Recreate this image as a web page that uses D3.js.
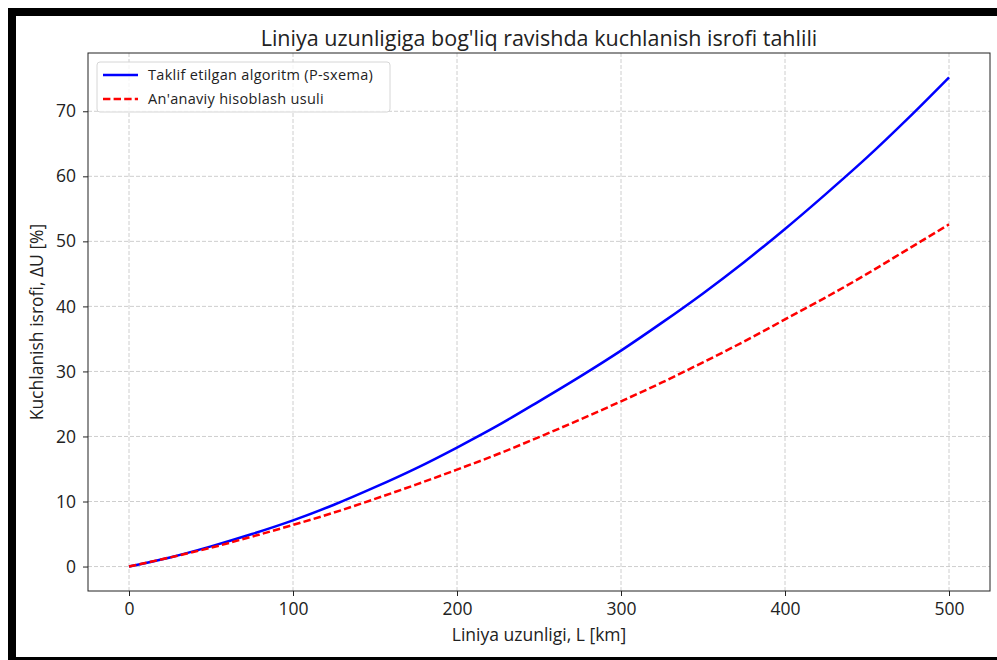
<!DOCTYPE html>
<html>
<head>
<meta charset="utf-8">
<script src="https://cdn.jsdelivr.net/npm/d3@7"></script>
<style>
  body { margin: 0; background: #fff; }
  svg { display: block; font-family: "Open Sans", sans-serif; }
</style>
</head>
<body>
<script>
// Data
var lengthKm = [0, 25, 50, 75, 100, 125, 150, 175, 200, 225, 250, 275, 300, 325, 350, 375, 400, 425, 450, 475, 500];
var proposedLoss = [0, 1.4, 3.1, 5.0, 7.1, 9.5, 12.2, 15.1, 18.3, 21.7, 25.4, 29.2, 33.2, 37.5, 42.0, 46.8, 51.9, 57.3, 62.9, 68.9, 75.2];
var traditionalLoss = [0, 1.4, 2.9, 4.6, 6.4, 8.3, 10.4, 12.6, 14.9, 17.3, 19.9, 22.6, 25.4, 28.3, 31.4, 34.6, 38.0, 41.4, 45.0, 48.8, 52.6];
var xTicks = [0, 100, 200, 300, 400, 500];
var yTicks = [0, 10, 20, 30, 40, 50, 60, 70];
var seriesNames = ["Taklif etilgan algoritm (P-sxema)", "An'anaviy hisoblash usuli"];

var W = 997, H = 660;
var margin = { top: 53, right: 7, bottom: 69, left: 88 },
    width = W - margin.left - margin.right,
    height = H - margin.top - margin.bottom;

var svg = d3.select("body").append("svg")
    .attr("width", W)
    .attr("height", H);

// black frame around the figure (top, left, bottom)
svg.append("rect").attr("x", 8).attr("y", 8).attr("width", W - 8).attr("height", 8).attr("fill", "#000");
svg.append("rect").attr("x", 8).attr("y", 8).attr("width", 8).attr("height", H - 8).attr("fill", "#000");
svg.append("rect").attr("x", 8).attr("y", 657).attr("width", W - 8).attr("height", 3).attr("fill", "#000");

var g = svg.append("g")
    .attr("transform", "translate(" + margin.left + "," + margin.top + ")");

// Scales with matplotlib-like 5% padding
var xPad = 0.05 * 500, yMax = d3.max(proposedLoss), yPad = 0.05 * yMax;
var x = d3.scaleLinear().domain([-xPad, 500 + xPad]).range([0, width]);
var y = d3.scaleLinear().domain([-yPad, yMax + yPad]).range([height, 0]);

// Grid
g.append("g").selectAll("line").data(xTicks).enter().append("line")
    .attr("x1", d => x(d)).attr("x2", d => x(d))
    .attr("y1", 0).attr("y2", height)
    .attr("stroke", "#c8c8c8").attr("stroke-width", 0.9).attr("stroke-dasharray", "4,2");
g.append("g").selectAll("line").data(yTicks).enter().append("line")
    .attr("x1", 0).attr("x2", width)
    .attr("y1", d => y(d)).attr("y2", d => y(d))
    .attr("stroke", "#c8c8c8").attr("stroke-width", 0.9).attr("stroke-dasharray", "4,2");

// Axes
var xAxis = g.append("g")
    .attr("transform", "translate(0," + height + ")")
    .call(d3.axisBottom(x).tickValues(xTicks).tickSize(5).tickPadding(7).tickSizeOuter(0));
var yAxis = g.append("g")
    .call(d3.axisLeft(y).tickValues(yTicks).tickSize(5).tickPadding(7).tickSizeOuter(0));
[xAxis, yAxis].forEach(function (a) {
    a.select(".domain").remove();
    a.selectAll("text").attr("font-size", 17.5).attr("fill", "#222").attr("font-family", "Open Sans, sans-serif");
    a.selectAll("line").attr("stroke", "#222");
});

// Frame of the plot area
g.append("rect")
    .attr("width", width).attr("height", height)
    .attr("fill", "none").attr("stroke", "#222").attr("stroke-width", 1);

// Lines
var line = function (vals) {
    return d3.line()
        .x(function (d, i) { return x(lengthKm[i]); })
        .y(function (d) { return y(d); })
        .curve(d3.curveMonotoneX)(vals);
};

g.append("path")
    .attr("d", line(proposedLoss))
    .attr("fill", "none").attr("stroke", "#0000ff").attr("stroke-width", 2.5);
g.append("path")
    .attr("d", line(traditionalLoss))
    .attr("fill", "none").attr("stroke", "#ff0000").attr("stroke-width", 2.5)
    .attr("stroke-dasharray", "7.4,3.2");

// Title and axis labels
svg.append("text")
    .attr("x", margin.left + width / 2).attr("y", 46)
    .attr("text-anchor", "middle").attr("font-size", 21.5).attr("fill", "#222")
    .text("Liniya uzunligiga bog'liq ravishda kuchlanish isrofi tahlili");
svg.append("text")
    .attr("x", margin.left + width / 2).attr("y", 641)
    .attr("text-anchor", "middle").attr("font-size", 17.5).attr("fill", "#222")
    .text("Liniya uzunligi, L [km]");
svg.append("text")
    .attr("transform", "translate(43," + (margin.top + height / 2) + ") rotate(-90)")
    .attr("text-anchor", "middle").attr("font-size", 17.5).attr("fill", "#222")
    .text("Kuchlanish isrofi, \u0394U [%]");

// Legend
var legend = g.append("g").attr("transform", "translate(9,9)");
legend.append("rect")
    .attr("width", 293).attr("height", 50).attr("rx", 3)
    .attr("fill", "#fff").attr("fill-opacity", 0.8)
    .attr("stroke", "#d6d6d6").attr("stroke-width", 1);
var items = legend.selectAll(".item").data(seriesNames).enter().append("g")
    .attr("class", "item")
    .attr("transform", function (d, i) { return "translate(0," + (13 + i * 24) + ")"; });
items.append("line")
    .attr("x1", 6).attr("x2", 41).attr("y1", 0).attr("y2", 0)
    .attr("stroke", function (d, i) { return i === 0 ? "#0000ff" : "#ff0000"; })
    .attr("stroke-width", 2.5)
    .attr("stroke-dasharray", function (d, i) { return i === 0 ? null : "7.4,3.2"; });
items.append("text")
    .attr("x", 51).attr("y", 0).attr("dy", "0.35em")
    .attr("font-size", 14.5).attr("letter-spacing", 0.3).attr("fill", "#222")
    .text(function (d) { return d; });
</script>
</body>
</html>
